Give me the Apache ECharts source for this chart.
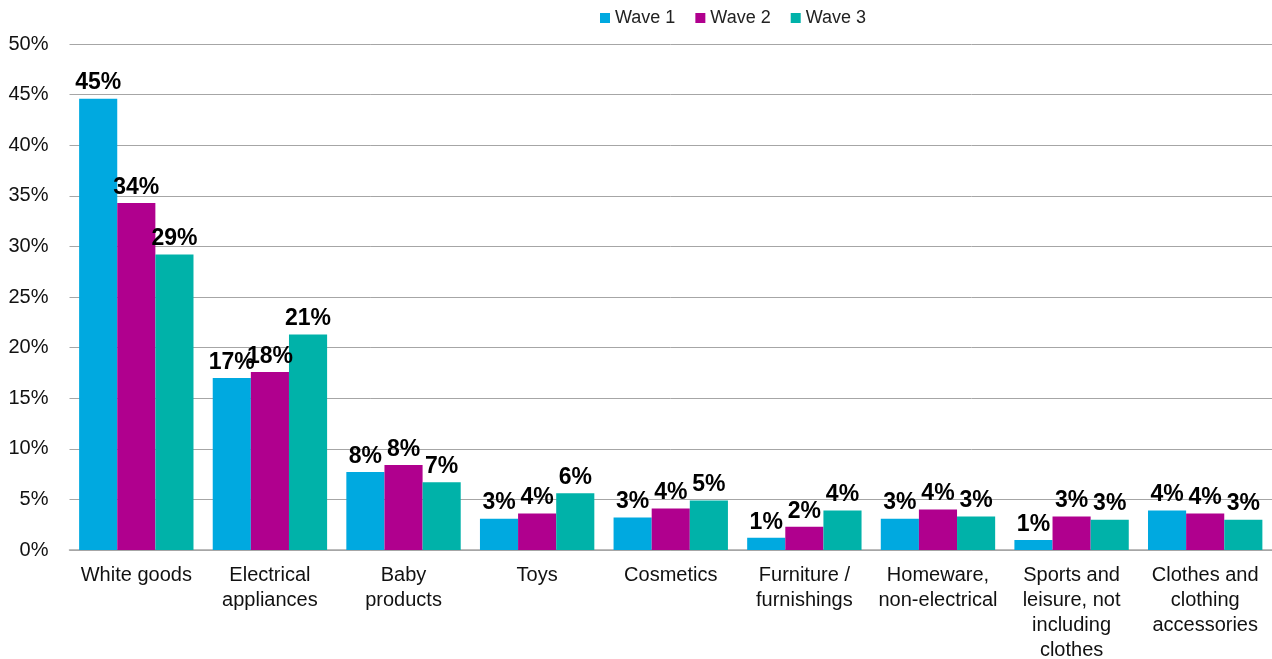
<!DOCTYPE html>
<html>
<head>
<meta charset="utf-8">
<script src="https://cdn.jsdelivr.net/npm/echarts@6/dist/echarts.min.js"></script>
<style>
  html, body { margin: 0; padding: 0; background: #fff; }
  #chart { width: 1272px; height: 659px; }
</style>
</head>
<body>
<div id="chart"></div>
<script>
// Product categories (x axis)
const categories = [
  'White goods',
  'Electrical\nappliances',
  'Baby\nproducts',
  'Toys',
  'Cosmetics',
  'Furniture /\nfurnishings',
  'Homeware,\nnon-electrical',
  'Sports and\nleisure, not\nincluding\nclothes',
  'Clothes and\nclothing\naccessories'
];

// Share of respondents (%) per wave
const wave1 = [44.6, 17.0, 7.7, 3.1, 3.2, 1.2, 3.1, 1.0, 3.9];
const wave2 = [34.3, 17.6, 8.4, 3.6, 4.1, 2.3, 4.0, 3.3, 3.6];
const wave3 = [29.2, 21.3, 6.7, 5.6, 4.9, 3.9, 3.3, 3.0, 3.0];

const seriesNames = ['Wave 1', 'Wave 2', 'Wave 3'];
const colors = ['#00A9E0', '#B0008E', '#00B2A9'];

const FONT = '"Liberation Sans", Arial, sans-serif';

function barSeries(name, data, color) {
  return {
    name: name,
    type: 'bar',
    data: data,
    barGap: '0%',
    barCategoryGap: '14.4%',
    itemStyle: { color: color },
    label: {
      show: true,
      position: 'top',
      distance: 4,
      fontFamily: FONT,
      fontSize: 23,
      fontWeight: 'bold',
      color: '#000',
      formatter: p => Math.round(p.value) + '%'
    }
  };
}

const chart = echarts.init(document.getElementById('chart'));
chart.setOption({
  animation: false,
  textStyle: { fontFamily: FONT },
  color: colors,
  legend: {
    left: 600,
    top: 9,
    padding: 0,
    icon: 'rect',
    itemWidth: 10,
    itemHeight: 10,
    itemGap: 20,
    textStyle: { fontFamily: FONT, fontSize: 18, color: '#222' },
    data: seriesNames
  },
  grid: {
    left: 69.5, right: 0, top: 44, bottom: 109,
    containLabel: false,
    outerBoundsMode: 'none'
  },
  xAxis: {
    type: 'category',
    data: categories,
    axisLine: { lineStyle: { color: '#A6A6A6', width: 1.5 } },
    axisTick: { show: false },
    axisLabel: {
      interval: 0,
      margin: 13,
      fontFamily: FONT,
      fontSize: 20,
      lineHeight: 25,
      color: '#111'
    }
  },
  yAxis: {
    type: 'value',
    min: 0,
    max: 50,
    interval: 5,
    axisLine: { show: false },
    axisTick: { show: false },
    axisLabel: {
      formatter: '{value}%',
      margin: 21,
      fontFamily: FONT,
      fontSize: 20,
      color: '#111'
    },
    splitLine: { lineStyle: { color: '#A6A6A6', width: 1 } }
  },
  series: [
    barSeries(seriesNames[0], wave1, colors[0]),
    barSeries(seriesNames[1], wave2, colors[1]),
    barSeries(seriesNames[2], wave3, colors[2])
  ]
});
</script>
</body>
</html>
